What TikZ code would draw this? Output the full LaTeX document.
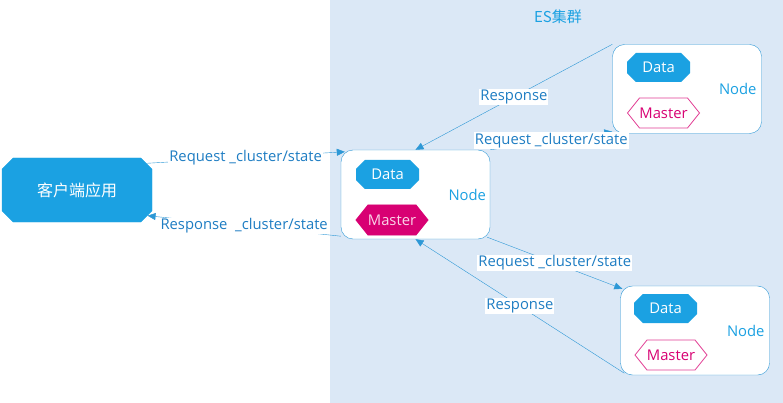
\documentclass[tikz,border=0pt]{standalone}
\usepackage{fontspec}
\setmainfont{Open Sans}
\newfontfamily\cjk{Noto Sans CJK SC}
\usetikzlibrary{shapes.misc,arrows.meta,positioning}
\definecolor{esblue}{RGB}{27,161,226}
\definecolor{esline}{RGB}{45,152,214}
\definecolor{eslabel}{RGB}{30,125,195}
\definecolor{esmagenta}{RGB}{216,0,115}
\definecolor{espink}{RGB}{226,62,148}
\definecolor{clusterbg}{RGB}{219,232,246}
\definecolor{mastertext}{RGB}{250,212,232}
\begin{document}
\begin{tikzpicture}[
    x=1pt, y=-1pt,
    >={Triangle[length=8pt,width=7pt]},
    font=\fontsize{14.8}{17}\selectfont,
    client/.style={chamfered rectangle, chamfered rectangle xsep=14pt, fill=esblue, draw=esblue,
        text=white, minimum width=150pt, minimum height=64pt, inner sep=0pt, font=\cjk\fontsize{16}{19}\selectfont},
    esnode/.style={draw=esline, fill=white, rounded corners=12pt, minimum width=149pt, minimum height=89pt},
    databox/.style={chamfered rectangle, chamfered rectangle xsep=6pt, fill=esblue, text=white,
        minimum width=63pt, minimum height=29pt, inner sep=0pt},
    masterbox/.style 2 args={rectangle, minimum width=76pt, minimum height=32pt, inner sep=0pt,
        path picture={
            \filldraw[fill=#1, draw=#2, line width=0.8pt]
                ([xshift=2pt]path picture bounding box.west)
                -- ([xshift=14pt,yshift=-1pt]path picture bounding box.north west)
                -- ([xshift=-14pt,yshift=-1pt]path picture bounding box.north east)
                -- ([xshift=-2pt]path picture bounding box.east)
                -- ([xshift=-14pt,yshift=1pt]path picture bounding box.south east)
                -- ([xshift=14pt,yshift=1pt]path picture bounding box.south west)
                -- cycle;
        }},
    nodelbl/.style={text=esblue, inner sep=0pt},
    conn/.style={->, draw=esline, thin},
    lbl/.style={fill=white, text=eslabel, inner sep=1pt}
]
\useasboundingbox (0,0) rectangle (783,403);
\fill[clusterbg] (330,0) rectangle (783,403);
\node[text=esblue, font=\cjk\fontsize{15}{18}\selectfont] (title) at (558,17) {ES集群};

% client
\node[client] (client) at (77,190) {客户端应用};

% nodes of the cluster
\node[esnode] (main) at (415.5,194.5) {};
\node[databox] (maindata) at (387.5,174.5) {Data};
\node[masterbox={esmagenta}{esmagenta}, text=mastertext] (mainmaster) at (392,220) {Master};
\node[nodelbl, left=4pt of main.east] (mainlbl) {Node};

\node[esnode] (upper) at (687,89) {};
\node[databox] (upperdata) at (658.5,67.5) {Data};
\node[masterbox={white}{espink}, text=esmagenta] (uppermaster) at (663.5,113) {Master};
\node[nodelbl, left=5pt of upper.east] (upperlbl) {Node};

\node[esnode] (lower) at (695,330.5) {};
\node[databox] (lowerdata) at (665.5,308.5) {Data};
\node[masterbox={white}{espink}, text=esmagenta] (lowermaster) at (671,355) {Master};
\node[nodelbl, left=5pt of lower.east] (lowerlbl) {Node};

% requests and responses
\draw[conn] (client.21) -- node[lbl] {Request \_cluster/state} ([xshift=4pt,yshift=-2pt]main.north west);
\draw[conn] ([yshift=3pt]main.south west) -- node[lbl] {Response\ \ \_cluster/state} (client.-20);
\draw[conn] (upper.north west) -- node[lbl] {Response} (main.north);
\draw[conn] (main.north east) -- node[lbl] {Request \_cluster/state} ([yshift=2pt]upper.south west);
\draw[conn] ([xshift=-3pt,yshift=2pt]main.south east) -- node[lbl] {Request \_cluster/state} ([xshift=2pt,yshift=-3pt]lower.north west);
\draw[conn] ([xshift=4pt,yshift=2pt]lower.south west) -- node[lbl] {Response} (main.south);
\end{tikzpicture}
\end{document}
